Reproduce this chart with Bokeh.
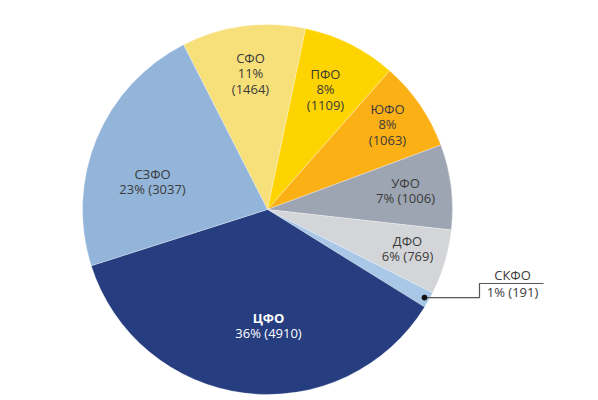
import math
from bokeh.plotting import figure
from bokeh.models import Range1d, ColumnDataSource
from bokeh.core.properties import value
from bokeh.embed import file_html
from bokeh.resources import INLINE

# ---- data (clockwise order, starting at top-left boundary) ----
regions = ["СФО", "ПФО", "ЮФО", "УФО", "ДФО", "СКФО", "ЦФО", "СЗФО"]
counts = [1464, 1109, 1063, 1006, 769, 191, 4910, 3037]
percents = [11, 8, 8, 7, 6, 1, 36, 23]

# ---- styles / layout ----
colors = ["#f7e07a", "#fdd400", "#fbb016", "#9da5b2", "#d4d5d8", "#a9c8e8", "#263e80", "#93b5da"]
W, H = 598, 400
CX, CY, R = 267, 400 - 209, 185
START_DEG = 117.0
# label anchor (screen coords of first line), stacked or single-line value
label_pos = {
    "СФО": (250, 57, True), "ПФО": (325, 73, True), "ЮФО": (387, 108, True),
    "УФО": (405, 182, False), "ДФО": (407, 240, False), "ЦФО": (268, 317, False),
    "СЗФО": (152, 173, False),
}
LINE_H = 15.5
FONT = value("Open Sans")

p = figure(width=W, height=H, output_backend="svg", toolbar_location=None,
           x_range=Range1d(0, W), y_range=Range1d(0, H),
           x_axis_type=None, y_axis_type=None, min_border=0)
p.grid.visible = False
p.outline_line_color = None
p.background_fill_color = "white"

total = sum(counts)
starts, ends, mids = [], [], []
cum = 0.0
for c in counts:
    s = START_DEG - cum / total * 360.0
    e = s - c / total * 360.0
    starts.append(math.radians(s))
    ends.append(math.radians(e))
    mids.append(math.radians((s + e) / 2))
    cum += c

src = ColumnDataSource(dict(start=starts, end=ends, color=colors, name=regions))
p.wedge(x=CX, y=CY, radius=R, start_angle="start", end_angle="end",
        direction="clock", fill_color="color", line_color="white",
        line_width=0.6, line_alpha=0.5, source=src)

# ---- labels ----
xs, ys, txt, tcol, tw = [], [], [], [], []
for name, n, pc in zip(regions, counts, percents):
    if name not in label_pos:
        continue
    lx, ly, stacked = label_pos[name]
    dark = name == "ЦФО"
    col = "white" if dark else "#3a3a3a"
    lines = [name] + ([f"{pc}%", f"({n})"] if stacked else [f"{pc}% ({n})"])
    for i, ln in enumerate(lines):
        xs.append(lx)
        ys.append(H - (ly + i * LINE_H))
        txt.append(ln)
        tcol.append(col)
        tw.append("bold" if (dark and i == 0) else "normal")

lsrc = ColumnDataSource(dict(x=xs, y=ys, text=txt, color=tcol, weight=tw))
p.text(x="x", y="y", text="text", text_color="color", text_font_style="weight",
       text_font=FONT, text_font_size="13px", text_align="center",
       text_baseline="middle", source=lsrc)

# ---- callout for the small slice ----
k = regions.index("СКФО")
dx = CX + 180 * math.cos(mids[k])
dy = CY + 180 * math.sin(mids[k])
bend_x, end_x, top_y = 479, 543, H - 283
p.line(x=[dx, bend_x, bend_x, end_x], y=[dy, dy, top_y, top_y],
       line_color="#555555", line_width=1.2)
p.scatter(x=[dx], y=[dy], size=5, color="#111111")
p.text(x=[512, 512], y=[H - 274, H - 291],
       text=[regions[k], f"{percents[k]}% ({counts[k]})"],
       text_color="#3a3a3a", text_font=FONT, text_font_size="13px",
       text_align="center", text_baseline="middle")

open("out.html", "w").write(file_html(p, INLINE))
